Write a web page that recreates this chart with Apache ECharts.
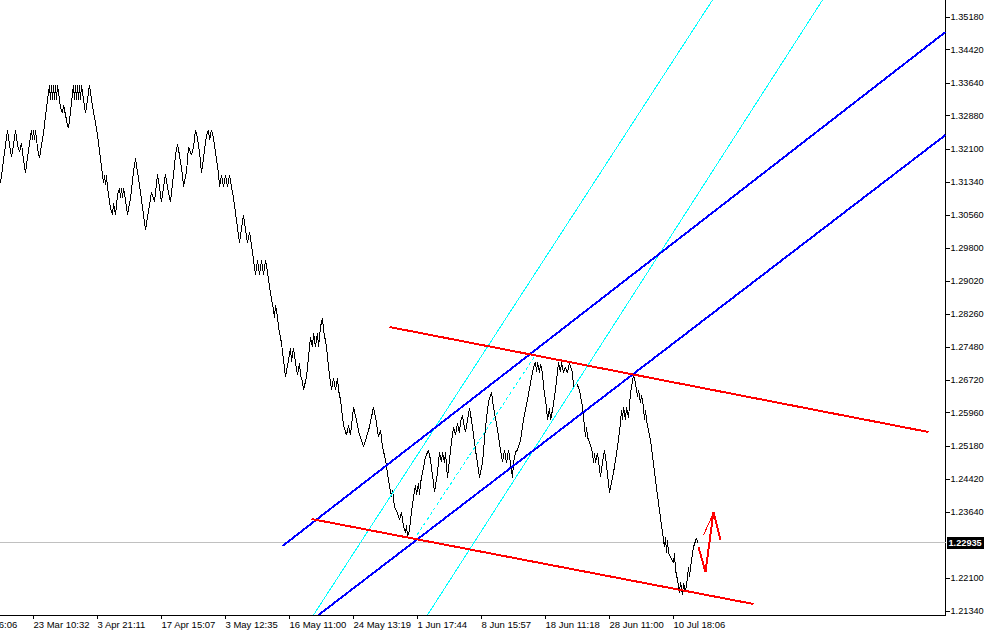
<!DOCTYPE html>
<html><head><meta charset="utf-8">
<script src="https://cdn.jsdelivr.net/npm/echarts@6/dist/echarts.min.js"></script>
<style>html,body{margin:0;padding:0;background:#fff;overflow:hidden}#c{width:984px;height:632px}
#c svg path{shape-rendering:crispEdges}</style>
</head><body><div id="c"></div>
<script>
// bar index (horizontal position in bars) and close price of the line chart
const closeSeries = [
[0,1.3131],[7,1.3255],[9,1.3220],[11,1.3192],[13,1.3220],[15,1.3255],[17,1.3220],[19,1.3203],[21,1.3224],[23,1.3185],
[25,1.3155],[28,1.3208],[31,1.3255],[32,1.3231],[33,1.3255],[34,1.3231],[35,1.3255],[37,1.3213],[39,1.3189],[41,1.3220],
[43,1.3248],[46,1.3306],[49,1.3360],[50,1.3325],[51,1.3360],[52,1.3325],[53,1.3360],[54,1.3325],[55,1.3360],[56,1.3325],
[57,1.3360],[59,1.3325],[60,1.3306],[62,1.3294],[63,1.3313],[65,1.3290],[67,1.3266],[68,1.3259],[70,1.3297],[73,1.3360],
[74,1.3325],[75,1.3360],[76,1.3325],[77,1.3360],[78,1.3325],[79,1.3360],[80,1.3325],[81,1.3360],[83,1.3325],[85,1.3294],
[87,1.3325],[89,1.3360],[91,1.3325],[97,1.3243],[102,1.3150],[103,1.3131],[104,1.3150],[105,1.3127],[106,1.3150],[107,1.3120],
[110,1.3073],[112,1.3057],[113,1.3085],[115,1.3057],[117,1.3103],[119,1.3120],[120,1.3096],[121,1.3120],[122,1.3096],[123,1.3120],
[125,1.3092],[127,1.3057],[130,1.3096],[133,1.3157],[135,1.3189],[137,1.3157],[140,1.3110],[143,1.3057],[145,1.3022],[149,1.3080],
[151,1.3110],[154,1.3087],[157,1.3152],[159,1.3120],[161,1.3087],[163,1.3120],[165,1.3152],[167,1.3120],[170,1.3087],[173,1.3150],
[175,1.3196],[177,1.3222],[179,1.3196],[182,1.3150],[183,1.3122],[186,1.3157],[188,1.3215],[191,1.3196],[193,1.3215],[195,1.3255],
[197,1.3236],[199,1.3203],[201,1.3155],[203,1.3189],[206,1.3243],[208,1.3255],[209,1.3231],[211,1.3255],[213,1.3236],[215,1.3201],
[218,1.3155],[219,1.3122],[221,1.3150],[223,1.3122],[225,1.3150],[227,1.3122],[229,1.3150],[231,1.3122],[233,1.3096],[236,1.3045],
[239,1.2991],[241,1.3026],[243,1.3057],[245,1.3022],[247,1.2991],[249,1.3017],[251,1.2987],[253,1.2952],[255,1.2917],[257,1.2952],
[259,1.2917],[261,1.2952],[263,1.2917],[265,1.2952],[267,1.2924],[270,1.2875],[273,1.2835],[274,1.2817],[275,1.2847],[277,1.2819],
[278,1.2796],[281,1.2758],[283,1.2719],[285,1.2679],[288,1.2719],[290,1.2747],[291,1.2714],[293,1.2747],[295,1.2712],[297,1.2684],
[299,1.2712],[300,1.2684],[302,1.2668],[303,1.2649],[306,1.2679],[308,1.2726],[310,1.2772],[312,1.2749],[313,1.2782],[315,1.2749],
[317,1.2782],[318,1.2749],[320,1.2796],[322,1.2817],[323,1.2789],[326,1.2749],[328,1.2702],[331,1.2649],[333,1.2677],[335,1.2649],
[337,1.2677],[338,1.2649],[340,1.2626],[343,1.2567],[346,1.2544],[348,1.2567],[350,1.2544],[353,1.2609],[356,1.2579],[359,1.2544],
[361,1.2532],[363,1.2516],[366,1.2539],[369,1.2563],[373,1.2609],[376,1.2572],[378,1.2539],[380,1.2556],[382,1.2516],[385,1.2486],
[388,1.2439],[391,1.2400],[392,1.2416],[394,1.2376],[397,1.2362],[399,1.2346],[401,1.2365],[403,1.2330],[405,1.2316],[406,1.2334],
[407,1.2306],[409,1.2323],[410,1.2346],[413,1.2400],[415,1.2428],[416,1.2404],[418,1.2432],[419,1.2404],[420,1.2432],[422,1.2456],
[425,1.2493],[428,1.2509],[430,1.2486],[433,1.2432],[434,1.2411],[437,1.2456],[439,1.2504],[441,1.2481],[442,1.2504],[444,1.2479],
[445,1.2504],[447,1.2444],[450,1.2509],[453,1.2563],[455,1.2544],[457,1.2572],[459,1.2549],[460,1.2574],[462,1.2591],[463,1.2572],
[465,1.2551],[467,1.2579],[469,1.2607],[472,1.2563],[475,1.2509],[478,1.2462],[479,1.2444],[482,1.2479],[485,1.2563],[488,1.2621],
[491,1.2644],[493,1.2609],[497,1.2556],[500,1.2509],[502,1.2481],[504,1.2509],[506,1.2479],[508,1.2509],[510,1.2479],[512,1.2444],
[513,1.2479],[515,1.2504],[517,1.2509],[520,1.2532],[523,1.2579],[527,1.2626],[530,1.2665],[533,1.2702],[535,1.2714],[536,1.2691],
[537,1.2714],[539,1.2689],[540,1.2710],[542,1.2689],[543,1.2656],[546,1.2609],[547,1.2579],[549,1.2607],[550,1.2579],[552,1.2602],
[555,1.2649],[558,1.2714],[560,1.2691],[561,1.2714],[563,1.2689],[565,1.2702],[567,1.2689],[569,1.2712],[572,1.2689],[573,1.2656],
[576,1.2665],[579,1.2649],[582,1.2609],[584,1.2563],[585,1.2539],[586,1.2563],[587,1.2539],[590,1.2521],[592,1.2502],[593,1.2479],
[594,1.2502],[595,1.2479],[597,1.2502],[600,1.2446],[602,1.2481],[604,1.2509],[606,1.2474],[609,1.2409],[613,1.2456],[617,1.2516],
[620,1.2572],[621,1.2602],[622,1.2579],[623,1.2609],[625,1.2579],[626,1.2609],[628,1.2584],[630,1.2642],[633,1.2684],[635,1.2665],
[637,1.2633],[638,1.2649],[640,1.2619],[641,1.2637],[643,1.2609],[644,1.2579],[645,1.2602],[646,1.2579],[650,1.2532],[655,1.2439],
[658,1.2386],[662,1.2316],[664,1.2283],[665,1.2306],[666,1.2269],[667,1.2299],[668,1.2269],[673,1.2246],[674,1.2269],[675,1.2230],
[677,1.2206],[679,1.2176],[680,1.2202],[682,1.2171],[683,1.2199],[685,1.2178],[687,1.2213],[688,1.2236],[689,1.2213],[690,1.2236],
[693,1.2283],[696,1.2304],[697,1.22935]
];
const currentPrice = 1.22935;

// time axis labels (bar index of each label and its text)
const xTickBars = [-34, 33, 97, 161, 225, 289, 353, 417, 481, 545, 609, 673];
const xTickLabels = ['9 Mar 16:06','23 Mar 10:32','3 Apr 21:11','17 Apr 15:07','3 May 12:35','16 May 11:00',
  '24 May 13:19','1 Jun 17:44','8 Jun 15:57','18 Jun 11:18','28 Jun 11:00','10 Jul 18:06'];
// price axis labels
const yTickValues = [1.35180,1.34420,1.33640,1.32880,1.32100,1.31340,1.30560,1.29800,1.29020,1.28260,
  1.27480,1.26720,1.25960,1.25180,1.24420,1.23640,1.22100,1.21340];

// visible range
const barMin = -40, barMax = 945;
const priceMin = 1.212466, priceMax = 1.355761;

// drawn objects: anchor points [bar, price]
const cyanLineA = [[313,1.21247],[712,1.35576]];
const cyanLineB = [[427,1.21247],[822,1.35576]];
const cyanDashed = [[410,1.22878],[535,1.27305]];
const blueUpper = [[282,1.22854],[945,1.34830]];
const blueLower = [[318,1.21247],[945,1.32431]];
const redUpper = [[389,1.27957],[928,1.25510]];
const redLower = [[311,1.23483],[753,1.21503]];
const redArrow = [[698,1.22831],[705,1.22248],[713,1.23646],[720,1.22994]];
const redArrowHead = [[703,1.23111],[713,1.23623]];

const FONT = 'Liberation Sans';
function seg(data, color, width, type) {
  return { type: 'line', data: data, showSymbol: false, symbol: 'none', silent: true,
    lineStyle: { color: color, width: width, type: type || 'solid' }, z: 3, animation: false };
}

const chart = echarts.init(document.getElementById('c'), null, { renderer: 'svg' });
chart.setOption({
  backgroundColor: '#ffffff',
  animation: false,
  grid: { left: barMin + 0.5, right: 38.5, top: 0, bottom: 17, containLabel: false, outerBoundsMode: 'none' },
  xAxis: {
    type: 'value', min: barMin, max: barMax,
    splitLine: { show: false },
    axisLine: { show: true, onZero: false, lineStyle: { color: '#000', width: 1 } },
    axisTick: { show: true, customValues: xTickBars, length: 4, lineStyle: { color: '#000' } },
    axisLabel: {
      show: true, customValues: xTickBars, align: 'left', margin: 4,
      color: '#000', fontFamily: FONT, fontSize: 9.5,
      formatter: function (v) {
        let best = -1, bd = 1e9;
        xTickBars.forEach(function (b, i) { const d = Math.abs(b - v); if (d < bd) { bd = d; best = i; } });
        return bd < 1 ? xTickLabels[best] : '';
      }
    }
  },
  yAxis: [{
    type: 'value', position: 'right', min: priceMin, max: priceMax, scale: true,
    splitLine: { show: false },
    axisLine: { show: true, onZero: false, lineStyle: { color: '#000', width: 1 } },
    axisTick: { show: true, customValues: yTickValues, length: 4, lineStyle: { color: '#000' } },
    axisLabel: { show: true, customValues: yTickValues, margin: 5, color: '#000', fontFamily: FONT, fontSize: 9.2,
      formatter: function (v) { return v.toFixed(5); } }
  }, {
    type: 'value', position: 'right', min: priceMin, max: priceMax, scale: true,
    splitLine: { show: false }, axisLine: { show: false }, axisTick: { show: false },
    axisLabel: { show: true, customValues: [currentPrice], margin: 1, color: '#fff', backgroundColor: '#000',
      padding: [2, 2, 1, 2], fontFamily: FONT, fontSize: 9.2, fontWeight: 'bold',
      formatter: function (v) { return v.toFixed(5); } }
  }],
  series: [
    { type: 'line', data: [[barMin, currentPrice], [barMax, currentPrice]], showSymbol: false, symbol: 'none', silent: true,
      lineStyle: { color: '#c0c0c0', width: 1 }, z: 1 },
    { type: 'line', data: closeSeries, showSymbol: false, symbol: 'none', silent: true,
      lineStyle: { color: '#000000', width: 1 }, z: 2 },
    seg(cyanLineA, '#00ffff', 1),
    seg(cyanLineB, '#00ffff', 1),
    seg(cyanDashed, '#00ffff', 1, [3, 3]),
    seg(blueUpper, '#0000ff', 2),
    seg(blueLower, '#0000ff', 2),
    seg(redUpper, '#ff0000', 2),
    seg(redLower, '#ff0000', 2),
    seg(redArrow, '#ff0000', 2),
    seg(redArrowHead, '#ff0000', 1)
  ]
});
</script>
</body></html>
